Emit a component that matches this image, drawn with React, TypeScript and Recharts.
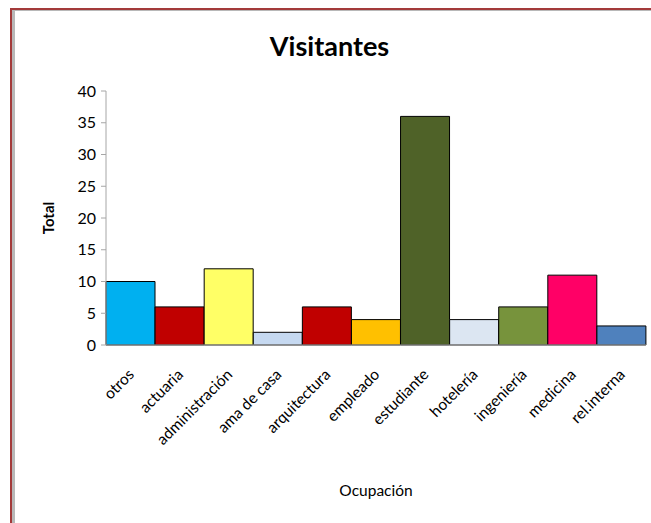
import { BarChart, Bar, XAxis, YAxis, Cell } from 'recharts'

const categories = ['otros', 'actuaria', 'administración', 'ama de casa', 'arquitectura', 'empleado', 'estudiante', 'hotelería', 'ingeniería', 'medicina', 'rel.interna']
const totals = [10, 6, 12, 2, 6, 4, 36, 4, 6, 11, 3]
const barColors = ['#00B0F0', '#C00000', '#FFFF66', '#C6D9F1', '#C00000', '#FFC000', '#4F6228', '#DCE6F2', '#77933C', '#FF0066', '#4F81BD']
const yTicks = [0, 5, 10, 15, 20, 25, 30, 35, 40]

const data = categories.map((c, i) => ({ name: c, total: totals[i] }))

const FONT = 'Lato, "Noto Sans", sans-serif'

function XTick(props: any) {
  const { x, y, payload } = props
  const ax = x + 1
  const ay = y + 19
  return (
    <text
      x={ax}
      y={ay}
      transform={`rotate(-45, ${ax}, ${ay})`}
      textAnchor="end"
      fontSize={15.5}
      fontFamily={FONT}
      fill="#000"
      dy={5}
    >
      {payload.value}
    </text>
  )
}

export default function App() {
  return (
    <div style={{ position: 'fixed', left: 0, top: 0, width: 651, height: 523, background: '#fff', fontFamily: FONT }}>
      <div style={{ position: 'absolute', left: 10, top: 8, right: 0, bottom: 0, borderTop: '2px solid #a33a3a', borderLeft: '2px solid #a33a3a' }}>
        <div style={{ position: 'absolute', left: 0, top: 0, right: 0, bottom: 0, borderTop: '1px solid #b8b8b8', borderLeft: '3px solid #b8b8b8' }} />
      </div>
      <div style={{ position: 'absolute', left: 0, top: 29, width: 651, textAlign: 'center', fontSize: 27, fontWeight: 700, paddingLeft: 4 }}>
        Visitantes
      </div>
      <div
        style={{
          position: 'absolute',
          left: 48,
          top: 218,
          transform: 'translate(-50%, -50%) rotate(-90deg)',
          fontSize: 15,
          fontWeight: 700,
        }}
      >
        Total
      </div>
      <div style={{ position: 'absolute', left: 376, top: 490, transform: 'translate(-50%, -50%)', fontSize: 15.5 }}>
        Ocupación
      </div>
      <div style={{ position: 'absolute', left: 0, top: 0 }}>
        <BarChart width={651} height={523} data={data} margin={{ top: 91, right: 5, left: 0, bottom: 78 }} barCategoryGap={0}>
          <YAxis
            width={106}
            domain={[0, 40]}
            ticks={yTicks}
            interval={0}
            tick={{ fontSize: 16, fill: '#000', fontFamily: FONT }}
            tickLine={{ stroke: '#a6a6a6' }}
            axisLine={{ stroke: '#a6a6a6' }}
            tickSize={5}
            tickMargin={5}
          />
          <XAxis
            dataKey="name"
            height={100}
            interval={0}
            tick={<XTick />}
            tickLine={false}
            axisLine={{ stroke: '#a6a6a6' }}
          />
          <Bar dataKey="total" stroke="#000" strokeWidth={1} isAnimationActive={false}>
            {data.map((_, i) => (
              <Cell key={i} fill={barColors[i]} />
            ))}
          </Bar>
        </BarChart>
      </div>
    </div>
  )
}
